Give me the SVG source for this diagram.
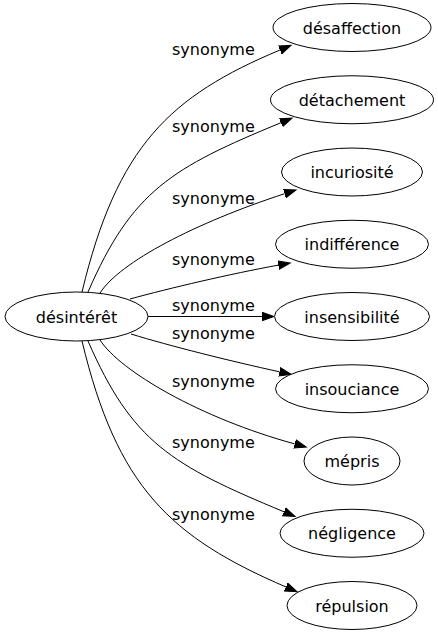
<svg xmlns="http://www.w3.org/2000/svg" width="438" height="635" viewBox="0 0 438 635">
<style>
text { font-family: "DejaVu Sans", sans-serif; font-size: 16px; fill: #000; }
.n ellipse { fill: #fff; stroke: #000; stroke-width: 1; }
.n text { text-anchor: middle; }
.e path { fill: none; stroke: #000; stroke-width: 1; }
.e text { text-anchor: start; }
</style>
<defs>
<marker id="ah" markerUnits="userSpaceOnUse" markerWidth="14" markerHeight="10" viewBox="0 -5 14 10" refX="0" refY="0" orient="auto">
<path d="M0,-4.3 L12,0 L0,4.3 z" fill="#000" stroke="#000" stroke-width="1"/>
</marker>
</defs>
<rect width="438" height="635" fill="#fff"/>
<g id="edges" class="e">
<path d="M82,292 C117,146 170,96 280,50" marker-end="url(#ah)"/>
<text x="172" y="55">synonyme</text>
<path d="M88,292 C132,191 171,168 281,122.7" marker-end="url(#ah)"/>
<text x="172" y="131.5">synonyme</text>
<path d="M100,293 C120,262 195,223 284.6,193.7" marker-end="url(#ah)"/>
<text x="172" y="203.5">synonyme</text>
<path d="M130,299 C170,288 230,274 278.4,265.1" marker-end="url(#ah)"/>
<text x="172" y="264.5">synonyme</text>
<path d="M148,316.5 L262,316.5" marker-end="url(#ah)"/>
<text x="172" y="311">synonyme</text>
<path d="M131,334 C170,346 230,361 279.5,371.8" marker-end="url(#ah)"/>
<text x="172" y="338.5">synonyme</text>
<path d="M100,340 C120,371 200,418 294.7,443.9" marker-end="url(#ah)"/>
<text x="172" y="386.5">synonyme</text>
<path d="M88,341 C132,442 171,465 284,511.8" marker-end="url(#ah)"/>
<text x="172" y="448">synonyme</text>
<path d="M82,341 C117,487 170,537 286,587" marker-end="url(#ah)"/>
<text x="172" y="520">synonyme</text>
</g>
<g id="n0" class="n"><ellipse cx="76.5" cy="316.5" rx="71.5" ry="24.5"/><text x="76.5" y="322.5">désintérêt</text></g>
<g id="n1" class="n"><ellipse cx="352" cy="27.5" rx="79" ry="24"/><text x="352" y="33.5">désaffection</text></g>
<g id="n2" class="n"><ellipse cx="352" cy="99.75" rx="81.5" ry="24"/><text x="352" y="105.75">détachement</text></g>
<g id="n3" class="n"><ellipse cx="352" cy="172" rx="70.5" ry="24"/><text x="352" y="178">incuriosité</text></g>
<g id="n4" class="n"><ellipse cx="352" cy="244.25" rx="76.5" ry="24"/><text x="352" y="250.25">indifférence</text></g>
<g id="n5" class="n"><ellipse cx="352" cy="316.5" rx="77.5" ry="24"/><text x="352" y="322.5">insensibilité</text></g>
<g id="n6" class="n"><ellipse cx="352" cy="388.75" rx="76.5" ry="24"/><text x="352" y="394.75">insouciance</text></g>
<g id="n7" class="n"><ellipse cx="352" cy="461" rx="48" ry="24"/><text x="352" y="467">mépris</text></g>
<g id="n8" class="n"><ellipse cx="352" cy="533.25" rx="72" ry="24"/><text x="352" y="539.25">négligence</text></g>
<g id="n9" class="n"><ellipse cx="352" cy="605.5" rx="65" ry="24"/><text x="352" y="611.5">répulsion</text></g>
</svg>
